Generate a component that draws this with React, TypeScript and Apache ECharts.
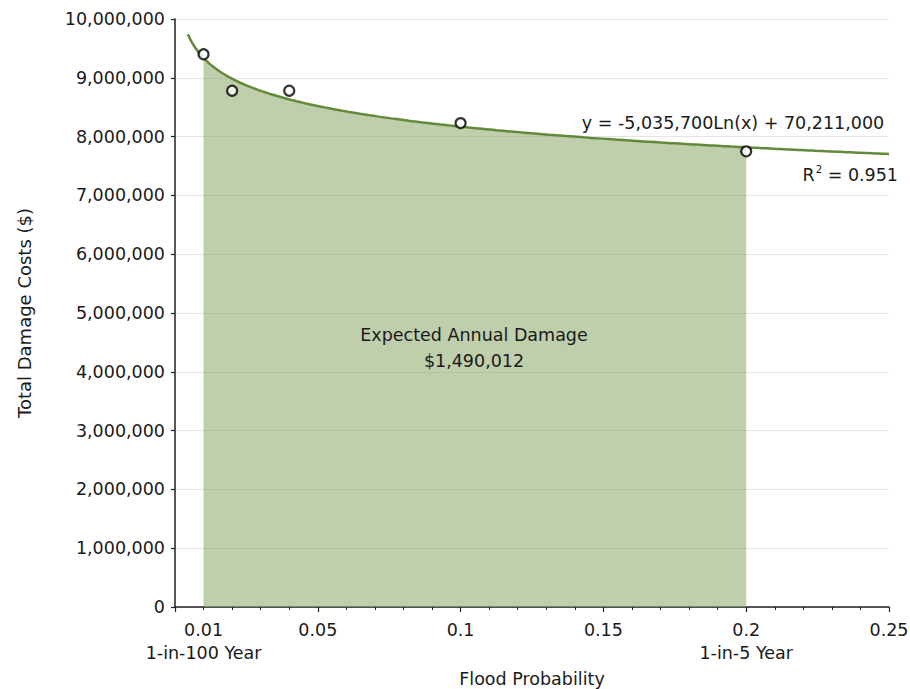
import React, { useEffect, useRef } from "react";
import * as echarts from "echarts";

// Observed flood events: annual exceedance probability vs. total damage
const probabilities = [0.01, 0.02, 0.04, 0.1, 0.2];
const damageCosts = [9400000, 8780000, 8780000, 8230000, 7750000];

// Axis ticks and labels
const xLabelValues = [0.01, 0.05, 0.1, 0.15, 0.2, 0.25];
const returnPeriodNames: Record<string, string> = {
  "0.01": "1-in-100 Year",
  "0.2": "1-in-5 Year",
};

// Annotation texts
const trendEquation = "y = -5,035,700Ln(x) + 70,211,000";
const rSquaredValue = "0.951";
const eadTitle = "Expected Annual Damage";
const eadValue = "$1,490,012";

// Ranges of the shaded EAD region and of the drawn trendline
const eadRange = [0.01, 0.2];
const trendRange = [0.0045, 0.25];

// Least-squares fit of y = a*ln(x) + b to the observations
function logFit(xs: number[], ys: number[]) {
  const lx = xs.map((v) => Math.log(v));
  const n = xs.length;
  const mx = lx.reduce((s, v) => s + v, 0) / n;
  const my = ys.reduce((s, v) => s + v, 0) / n;
  let sxy = 0;
  let sxx = 0;
  for (let i = 0; i < n; i++) {
    sxy += (lx[i] - mx) * (ys[i] - my);
    sxx += (lx[i] - mx) * (lx[i] - mx);
  }
  const a = sxy / sxx;
  return { a, b: my - a * mx };
}

const fit = logFit(probabilities, damageCosts);

function trendSamples(from: number, to: number, steps: number) {
  const out: number[][] = [];
  for (let i = 0; i <= steps; i++) {
    const x = from + ((to - from) * i) / steps;
    out.push([x, fit.a * Math.log(x) + fit.b]);
  }
  return out;
}

const FONT = "DejaVu Sans";
const TEXT = "#1a1a1a";
const FS = 17.5;

export default function App() {
  const ref = useRef<HTMLDivElement>(null);

  useEffect(() => {
    if (!ref.current) return;
    const chart = echarts.init(ref.current, undefined, { renderer: "svg" });
    chart.setOption({
      animation: false,
      backgroundColor: "#ffffff",
      grid: {
        left: 175,
        right: 21,
        top: 19,
        bottom: 82,
        containLabel: false,
        outerBoundsMode: "none",
      },
      xAxis: {
        type: "value",
        min: 0,
        max: 0.25,
        interval: 0.05,
        name: "Flood Probability",
        nameLocation: "middle",
        nameGap: 63,
        nameTextStyle: { color: TEXT, fontFamily: FONT, fontSize: FS },
        axisLine: { show: true, lineStyle: { color: "#222", width: 1.5 } },
        axisTick: {
          show: true,
          inside: false,
          length: 5,
          lineStyle: { color: "#222", width: 1.2 },
        },
        minorTick: {
          show: true,
          splitNumber: 5,
          length: 3,
          lineStyle: { color: "#222", width: 1 },
        },
        splitLine: { show: false },
        axisLabel: {
          customValues: xLabelValues,
          color: TEXT,
          fontFamily: FONT,
          fontSize: FS,
          margin: 11,
          lineHeight: 23,
          formatter: (v: number) => {
            const key = String(+v.toFixed(2));
            const extra = returnPeriodNames[key];
            return extra ? key + "\n" + extra : key;
          },
        },
      },
      yAxis: {
        type: "value",
        min: 0,
        max: 10000000,
        interval: 1000000,
        name: "Total Damage Costs ($)",
        nameLocation: "middle",
        nameGap: 142,
        nameRotate: 90,
        nameTextStyle: { color: TEXT, fontFamily: FONT, fontSize: 18 },
        axisLine: { show: true, lineStyle: { color: "#222", width: 1.5 } },
        axisTick: { show: true, length: 4, lineStyle: { color: "#222", width: 1.2 } },
        splitLine: { show: true, lineStyle: { color: "#e4e4e4", width: 1 } },
        axisLabel: {
          color: TEXT,
          fontFamily: FONT,
          fontSize: FS,
          margin: 10,
          formatter: (v: number) => v.toLocaleString("en-US"),
        },
      },
      series: [
        {
          name: "EAD area",
          type: "line",
          data: trendSamples(eadRange[0], eadRange[1], 120),
          showSymbol: false,
          lineStyle: { width: 0 },
          areaStyle: { color: "#8fa86b", opacity: 0.57 },
          silent: true,
          z: 1,
        },
        {
          name: "Trendline",
          type: "line",
          data: trendSamples(trendRange[0], trendRange[1], 200),
          showSymbol: false,
          lineStyle: { color: "#64893a", width: 2.5 },
          z: 2,
        },
        {
          name: "Observed damage",
          type: "scatter",
          data: probabilities.map((p, i) => [p, damageCosts[i]]),
          symbol: "circle",
          symbolSize: 10,
          itemStyle: { color: "#ffffff", borderColor: "#000000", borderWidth: 2.2 },
          z: 3,
        },
      ],
      graphic: [
        {
          type: "text",
          z: 100,
          x: 733,
          y: 123,
          style: {
            text: trendEquation,
            fill: TEXT,
            font: `${FS}px "${FONT}"`,
            align: "center",
            verticalAlign: "middle",
          },
        },
        {
          type: "text",
          z: 100,
          x: 898,
          y: 174,
          style: {
            text: "{r|R}{s|2}{r| = " + rSquaredValue + "}",
            fill: TEXT,
            align: "right",
            verticalAlign: "middle",
            rich: {
              r: { fontFamily: FONT, fontSize: FS, fill: TEXT, verticalAlign: "bottom" },
              s: { fontFamily: FONT, fontSize: 10, fill: TEXT, verticalAlign: "top", padding: [0, 0, 9, 1] },
            },
          },
        },
        {
          type: "text",
          z: 100,
          x: 474,
          y: 335,
          style: {
            text: eadTitle,
            fill: TEXT,
            font: `${FS}px "${FONT}"`,
            align: "center",
            verticalAlign: "middle",
          },
        },
        {
          type: "text",
          z: 100,
          x: 474,
          y: 361,
          style: {
            text: eadValue,
            fill: TEXT,
            font: `${FS}px "${FONT}"`,
            align: "center",
            verticalAlign: "middle",
          },
        },
      ],
    });
    return () => chart.dispose();
  }, []);

  return (
    <div
      ref={ref}
      style={{ position: "absolute", left: 0, top: 0, width: 910, height: 689 }}
    />
  );
}
